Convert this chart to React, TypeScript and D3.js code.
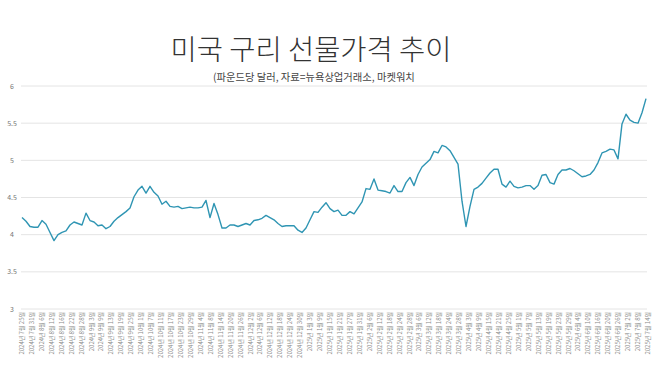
import * as d3 from "d3";

const W = 658;
const H = 370;

const TITLE = "미국 구리 선물가격 추이";
const SUBTITLE = "(파운드당 달러, 자료=뉴욕상업거래소, 마켓워치";

// y ticks (dollars per pound)
const yTicks = [3, 3.5, 4, 4.5, 5, 5.5, 6];

// x tick labels (every few trading days)
const dateLabels = [
  "2024년 7월 25일", "2024년 7월 31일", "2024년 8월 6일", "2024년 8월 12일", "2024년 8월 16일",
  "2024년 8월 22일", "2024년 8월 28일", "2024년 9월 3일", "2024년 9월 9일", "2024년 9월 13일",
  "2024년 9월 19일", "2024년 9월 25일", "2024년 10월 1일", "2024년 10월 7일", "2024년 10월 11일",
  "2024년 10월 17일", "2024년 10월 23일", "2024년 10월 29일", "2024년 11월 4일", "2024년 11월 8일",
  "2024년 11월 14일", "2024년 11월 20일", "2024년 11월 26일", "2024년 12월 2일", "2024년 12월 6일",
  "2024년 12월 12일", "2024년 12월 18일", "2024년 12월 24일", "2024년 12월 30일", "2025년 1월 3일",
  "2025년 1월 9일", "2025년 1월 15일", "2025년 1월 21일", "2025년 1월 27일", "2025년 1월 31일",
  "2025년 2월 6일", "2025년 2월 12일", "2025년 2월 18일", "2025년 2월 24일", "2025년 2월 28일",
  "2025년 3월 6일", "2025년 3월 12일", "2025년 3월 18일", "2025년 3월 24일", "2025년 3월 28일",
  "2025년 4월 3일", "2025년 4월 9일", "2025년 4월 15일", "2025년 4월 21일", "2025년 4월 25일",
  "2025년 5월 1일", "2025년 5월 7일", "2025년 5월 13일", "2025년 5월 19일", "2025년 5월 23일",
  "2025년 5월 29일", "2025년 6월 4일", "2025년 6월 10일", "2025년 6월 16일", "2025년 6월 20일",
  "2025년 6월 26일", "2025년 7월 2일", "2025년 7월 8일", "2025년 7월 14일",
];

// copper futures price
const prices = [
  4.23, 4.18, 4.11, 4.10, 4.10, 4.19, 4.14, 4.03, 3.92, 4.00,
  4.03, 4.05, 4.13, 4.17, 4.15, 4.13, 4.29, 4.19, 4.17, 4.12,
  4.13, 4.08, 4.11, 4.18, 4.23, 4.27, 4.31, 4.36, 4.51, 4.60,
  4.65, 4.56, 4.65, 4.57, 4.52, 4.41, 4.45, 4.38, 4.37, 4.38,
  4.35, 4.36, 4.37, 4.36, 4.36, 4.37, 4.46, 4.23, 4.42, 4.27,
  4.09, 4.09, 4.13, 4.13, 4.11, 4.13, 4.15, 4.13, 4.19, 4.20,
  4.22, 4.26, 4.23, 4.20, 4.15, 4.11, 4.12, 4.12, 4.12, 4.06,
  4.03, 4.09, 4.20, 4.31, 4.30, 4.37, 4.43, 4.35, 4.31, 4.33,
  4.26, 4.26, 4.31, 4.28, 4.36, 4.44, 4.62, 4.61, 4.75, 4.60,
  4.59, 4.58, 4.56, 4.66, 4.58, 4.58, 4.70, 4.77, 4.66, 4.81,
  4.91, 4.96, 5.01, 5.12, 5.10, 5.20, 5.18, 5.13, 5.04, 4.95,
  4.45, 4.11, 4.38, 4.61, 4.64, 4.69, 4.76, 4.83, 4.88, 4.88,
  4.68, 4.64, 4.72, 4.65, 4.63, 4.64, 4.66, 4.66, 4.61, 4.66,
  4.80, 4.81, 4.70, 4.68, 4.81, 4.87, 4.87, 4.89, 4.86, 4.82,
  4.78, 4.79, 4.81, 4.87, 4.97, 5.10, 5.12, 5.15, 5.14, 5.02,
  5.49, 5.62, 5.54, 5.51, 5.50, 5.64, 5.83,
];

const PLOT = { left: 21, right: 647, top: 86, bottom: 309 };
const FONT = "'Noto Sans CJK KR', 'Noto Sans', sans-serif";

export default function App() {
  const y = d3.scaleLinear().domain([3, 6]).range([PLOT.bottom, PLOT.top]);
  const xLabel = d3.scalePoint<string>().domain(dateLabels).range([22, 648]);
  const xData = d3
    .scaleLinear()
    .domain([0, prices.length - 1])
    .range([22, 646]);

  const line = d3
    .line<number>()
    .x((_, i) => xData(i))
    .y((d) => y(d));

  return (
    <svg
      width={W}
      height={H}
      style={{ position: "absolute", left: 0, top: 0, background: "#fff" }}
      fontFamily={FONT}
    >
      <text
        x={311}
        y={60}
        fontSize={28.5}
        textAnchor="middle"
        fill="#333"
        fontWeight={300}
      >
        {TITLE}
      </text>
      <text x={213} y={81} fontSize={10.3} fill="#444">
        {SUBTITLE}
      </text>

      {/* grid */}
      {yTicks.map((t) => (
        <g key={t}>
          <line
            x1={PLOT.left}
            x2={PLOT.right}
            y1={y(t)}
            y2={y(t)}
            stroke="#e4e4e4"
            strokeWidth={1}
          />
          <text
            x={12}
            y={y(t) + 2.5}
            fontSize={7}
            textAnchor="middle"
            fill="#777"
          >
            {t}
          </text>
        </g>
      ))}

      {/* x labels */}
      {dateLabels.map((d) => (
        <text
          key={d}
          transform={`translate(${xLabel(d)! + 2},312) rotate(-90)`}
          fontSize={6}
          textAnchor="end"
          fill="#888"
        >
          {d}
        </text>
      ))}

      <path
        d={line(prices) ?? ""}
        fill="none"
        stroke="#2f95b3"
        strokeWidth={1.4}
        strokeLinejoin="round"
      />
    </svg>
  );
}
